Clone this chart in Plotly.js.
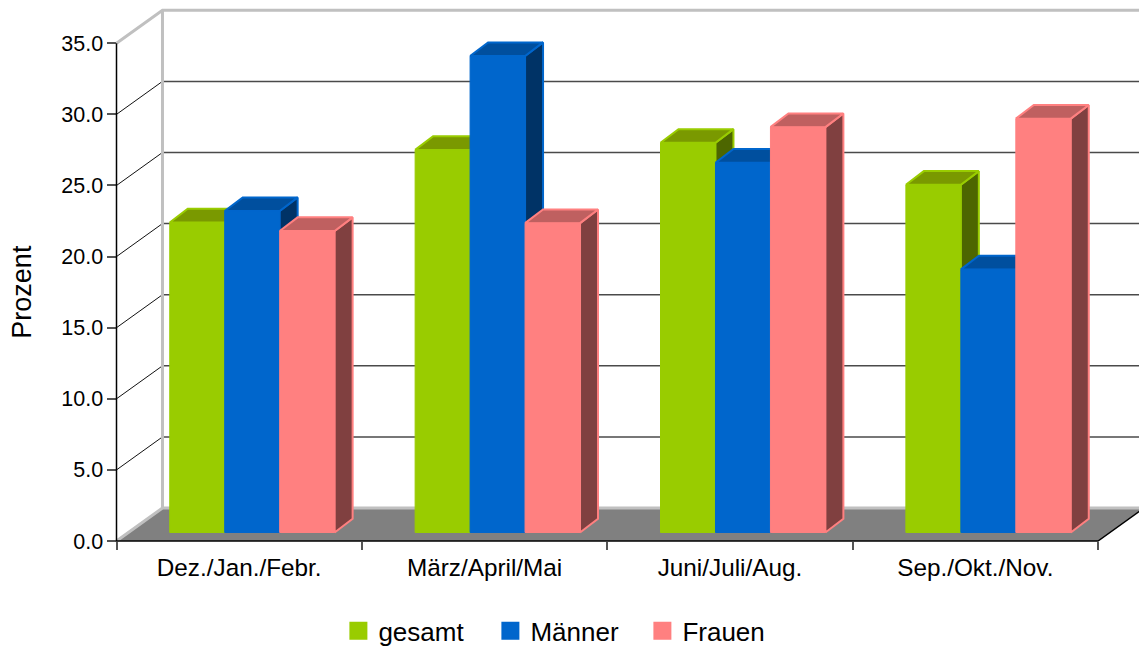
<!DOCTYPE html>
<html>
<head>
<meta charset="utf-8">
<script src="https://cdn.plot.ly/plotly-3.0.1.min.js"></script>
<style>html,body{margin:0;padding:0;background:#fff;overflow:hidden}</style>
</head>
<body>
<div id="chart" style="width:1139px;height:647px"></div>
<script>
// Saisonale Anteile in Prozent
const categories = ['Dez./Jan./Febr.', 'März/April/Mai', 'Juni/Juli/Aug.', 'Sep./Okt./Nov.'];
const gesamt = [21.8, 26.9, 27.4, 24.45];
const maenner = [22.6, 33.5, 26.0, 18.5];
const frauen = [21.2, 21.75, 28.5, 29.1];
const yTicks = [0, 5, 10, 15, 20, 25, 30, 35];

// Pseudo-3D geometry, in axis units (x: one category = 1, y: percent)
const WALL_DX = 0.1874, WALL_DY = 2.32;      // depth of the chart box
const BAR_DX = 0.0733, BAR_DY = 0.96;        // depth of one bar
const BAR_LIFT = 0.6;                        // bar feet sit behind the front floor edge
const BAR_W = 0.224;

// The drawing area is wider and taller than the front axes, so the box depth fits inside it
const W = 1139, H = 647;
const PX_PER_CAT = 245.5, PX_PER_PCT = 14.229;
const axisLeft = 116, axisBottom = 541.3, boxLeft = 114.5, boxBottom = 543.3, boxTop = 8;
const boxW = W - boxLeft, boxH = boxBottom - boxTop;
const xMin = -(axisLeft - boxLeft) / PX_PER_CAT, xMax = (W - axisLeft) / PX_PER_CAT;
const yMin = -(boxBottom - axisBottom) / PX_PER_PCT, yMax = (axisBottom - boxTop) / PX_PER_PCT;

const seriesDefs = [
  {name: 'gesamt', values: gesamt, left: -0.283, color: '#99cc00', top: '#7a9900', side: '#4d6600'},
  {name: 'Männer', values: maenner, left: -0.059, color: '#0066cc', top: '#004f9e', side: '#003366'},
  {name: 'Frauen', values: frauen, left: 0.165, color: '#ff8080', top: '#bf6060', side: '#804040'}
];

const font = 'Liberation Sans, Arial, sans-serif';
const n = categories.length;
const maxTick = yTicks[yTicks.length - 1];
const traces = [];

// Anchor trace for the labelled front axes
traces.push({x: categories, y: categories.map(() => 0), xaxis: 'x', yaxis: 'y2', type: 'scatter', mode: 'none',
  hoverinfo: 'skip', showlegend: false});

function poly(xs, ys, fill, line, width, zorder, group) {
  return {x: xs, y: ys, xaxis: 'x2', yaxis: 'y', type: 'scatter', mode: line ? 'lines' : 'none',
    fill: fill ? 'toself' : 'none', fillcolor: fill || undefined,
    line: {color: line || fill, width: width || 0},
    hoverinfo: 'skip', showlegend: false, zorder: zorder, legendgroup: group};
}

// Floor
traces.push(poly([0, n, n + WALL_DX, WALL_DX, 0], [0, 0, WALL_DY, WALL_DY, 0], '#808080', null, 0, 0));

// Gridlines on the left wall and the back wall
const sideX = [], sideY = [], backX = [], backY = [];
yTicks.slice(1, -1).forEach(t => {
  sideX.push(0, WALL_DX, null); sideY.push(t, t + WALL_DY, null);
  backX.push(WALL_DX, n + WALL_DX, null); backY.push(t + WALL_DY, t + WALL_DY, null);
});
traces.push(poly(sideX, sideY, null, '#111111', 1, 0));
traces.push(poly(backX, backY, null, '#4a4a4a', 1.5, 0));

// Light frame of the chart box
traces.push(poly(
  [0, WALL_DX, n + WALL_DX, null, WALL_DX, WALL_DX, null, 0, WALL_DX, n + WALL_DX],
  [maxTick, maxTick + WALL_DY, maxTick + WALL_DY, null, maxTick + WALL_DY, WALL_DY, null, 0, WALL_DY, WALL_DY],
  null, '#c0c0c0', 3, 0));
// Front axis lines and right floor edge
traces.push(poly([0, 0, n, n + WALL_DX], [maxTick, 0, 0, WALL_DY], null, '#000000', 1.5, 0));

// Bars: side and top faces first, then the front face, series by series
seriesDefs.forEach((s, si) => {
  const z = 2 + si * 2;
  s.values.forEach((v, i) => {
    const l = i + 0.5 + s.left, r = l + BAR_W, top = v + BAR_LIFT;
    traces.push(poly([r, r + BAR_DX, r + BAR_DX, r, r],
      [BAR_LIFT, BAR_LIFT + BAR_DY, top + BAR_DY, top, BAR_LIFT], s.side, s.color, 2, z, s.name));
    traces.push(poly([l, r, r + BAR_DX, l + BAR_DX, l],
      [top, top, top + BAR_DY, top + BAR_DY, top], s.top, s.color, 2, z, s.name));
  });
  traces.push({type: 'bar', name: s.name, x: categories.map((c, i) => i + 0.5), y: s.values,
    base: categories.map(() => BAR_LIFT), offset: s.left, width: BAR_W,
    xaxis: 'x2', yaxis: 'y', zorder: z + 1, showlegend: false, legendgroup: s.name,
    marker: {color: s.color, line: {color: s.color, width: 1}},
    hovertemplate: '%{customdata}: %{y:.1f}<extra>' + s.name + '</extra>', customdata: categories});
  // Legend swatch
  traces.push({type: 'scatter', mode: 'markers', name: s.name, x: [null], y: [null], xaxis: 'x2', yaxis: 'y',
    legendgroup: s.name, hoverinfo: 'skip',
    marker: {symbol: 'square', size: 16, color: s.color, line: {color: s.color, width: 2}}});
});

const layout = {
  width: W, height: H,
  margin: {l: boxLeft, r: 0, t: boxTop, b: H - boxBottom, pad: 0, autoexpand: false},
  paper_bgcolor: '#ffffff', plot_bgcolor: 'rgba(0,0,0,0)',
  font: {family: font, color: '#000000', size: 21},
  barmode: 'overlay',
  showlegend: true,
  legend: {orientation: 'h', x: (338 - boxLeft) / boxW, xanchor: 'left', y: -0.1205, yanchor: 'top',
    entrywidthmode: 'pixels', entrywidth: 107,
    font: {family: font, size: 26}, bgcolor: 'rgba(0,0,0,0)', traceorder: 'normal', itemclick: false, itemdoubleclick: false},
  // Front axes: tick marks and labels only, the lines themselves are drawn with the box
  xaxis: {type: 'category', categoryorder: 'array', categoryarray: categories,
    range: [xMin - 0.5, xMax - 0.5], anchor: 'free', position: (boxBottom - axisBottom) / boxH,
    tickson: 'boundaries', ticks: 'outside', ticklen: 8, tickcolor: '#555555', tickwidth: 1.5,
    ticklabelstandoff: 10,
    showline: false, showgrid: false, zeroline: false,
    tickfont: {family: font, size: 24.3}, fixedrange: true},
  yaxis2: {domain: [(boxBottom - axisBottom) / boxH, (boxBottom - axisBottom + maxTick * PX_PER_PCT) / boxH],
    range: [0, maxTick], anchor: 'free', position: (axisLeft - boxLeft) / boxW,
    tickmode: 'array', tickvals: yTicks, tickformat: '.1f',
    ticks: 'outside', ticklen: 9, tickcolor: '#555555', tickwidth: 1.5,
    showline: false, showgrid: false, zeroline: false,
    tickfont: {family: font, size: 21.5}, fixedrange: true,
    title: {text: 'Prozent', font: {family: font, size: 27}, standoff: 20}},
  // Drawing axes for the box and the bars
  xaxis2: {range: [xMin, xMax], visible: false, fixedrange: true, anchor: 'y'},
  yaxis: {range: [yMin, yMax], visible: false, fixedrange: true, anchor: 'x2'}
};

Plotly.newPlot('chart', traces, layout, {displayModeBar: false, responsive: false});
</script>
</body>
</html>
